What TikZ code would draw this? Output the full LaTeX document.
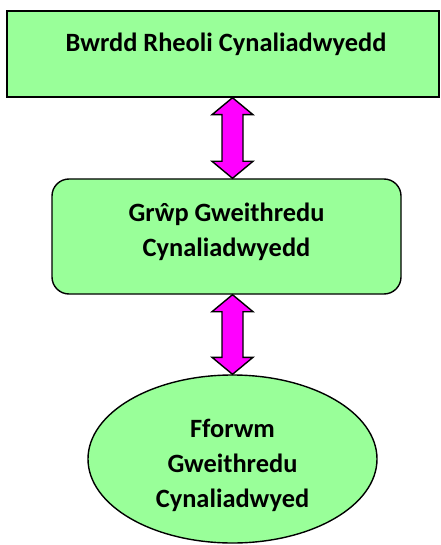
\documentclass[tikz,border=0pt]{standalone}
\usepackage{fontspec}
\setmainfont{Carlito}
\usetikzlibrary{calc,shapes.geometric}
\definecolor{boxgreen}{HTML}{99FF99}
\definecolor{arrowmag}{HTML}{FF00FF}
\tikzset{
  box/.style={draw=black, fill=boxgreen, line width=1.4pt, inner sep=0pt},
  lbl/.style={font=\bfseries\fontsize{26.4}{35}\selectfont, align=center, inner sep=0pt, anchor=base},
  darr/.style={draw=black, fill=arrowmag, line width=1.4pt, line join=miter}
}
\newcommand{\dblarrow}[2]{%
  \draw[darr] (#1) -- ($(#1)+(20.5,17)$) -- ($(#1)+(10.5,17)$) -- ($(#2)+(10.5,-17)$) -- ($(#2)+(20.5,-17)$) -- (#2) -- ($(#2)+(-20.5,-17)$) -- ($(#2)+(-10.5,-17)$) -- ($(#1)+(-10.5,17)$) -- ($(#1)+(-20.5,17)$) -- cycle;}
\begin{document}
\begin{tikzpicture}[x=1pt,y=-1pt]
\useasboundingbox (0,0) rectangle (440,545);
% shapes
\node[box, rectangle, minimum width=432pt, minimum height=86pt] (top) at (223,54) {};
\node[box, rectangle, rounded corners=17pt, minimum width=349pt, minimum height=115pt] (mid) at (226.5,236.5) {};
\node[box, ellipse, minimum width=289pt, minimum height=168pt] (ell) at (232.5,459) {};
% texts
\node[lbl] (toptxt) at (226,52) {Bwrdd Rheoli Cynaliadwyedd};
\node[lbl] (midtxt1) at (226.5,221.7) {Grŵp Gweithredu};
\node[lbl] (midtxt2) at (226.5,256.7) {Cynaliadwyedd};
\node[lbl] (elltxt1) at (232.5,437.7) {Fforwm};
\node[lbl] (elltxt2) at (232.5,472.7) {Gweithredu};
\node[lbl] (elltxt3) at (232.5,507.7) {Cynaliadwyed};
% arrows
\coordinate (a1t) at (ell.north |- top.south);
\coordinate (a1b) at (ell.north |- mid.north);
\coordinate (a2t) at (ell.north |- mid.south);
\coordinate (a2b) at (ell.north);
\dblarrow{a1t}{a1b}
\dblarrow{a2t}{a2b}
\end{tikzpicture}
\end{document}
